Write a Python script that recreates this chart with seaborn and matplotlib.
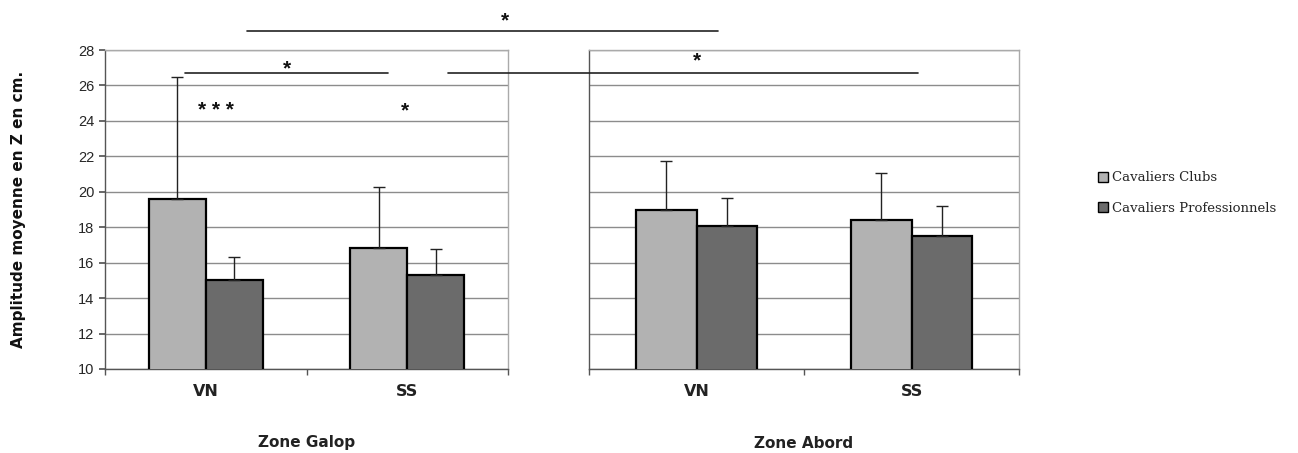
import pandas as pd
import matplotlib.pyplot as plt
import seaborn as sns
import numpy as np
from matplotlib.lines import Line2D

# --- données ---
zones = ['Zone Galop', 'Zone Abord']
positions = ['VN', 'SS']
cavaliers = ['Cavaliers Clubs', 'Cavaliers Professionnels']

# moyennes (zone galop VN, SS puis zone abord VN, SS)
moy_clubs = [19.6, 16.85, 19.0, 18.4]
moy_pros = [15.0, 15.3, 18.05, 17.5]
# écarts-types (barres d'erreur vers le haut seulement)
err_clubs = [6.9, 3.4, 2.75, 2.65]
err_pros = [1.3, 1.45, 1.6, 1.7]

lignes = []
for i, (z, p) in enumerate([(z, p) for z in zones for p in positions]):
    lignes.append({'Zone': z, 'Position': p, 'Cavalier': cavaliers[0], 'Moyenne': moy_clubs[i], 'Err': err_clubs[i]})
    lignes.append({'Zone': z, 'Position': p, 'Cavalier': cavaliers[1], 'Moyenne': moy_pros[i], 'Err': err_pros[i]})
df = pd.DataFrame(lignes)

sns.set_theme(style="white")
plt.rcParams['font.family'] = ['Liberation Sans', 'DejaVu Sans']

W, H = 1298, 453
fig = plt.figure(figsize=(W / 100, H / 100), dpi=100)

palette = {cavaliers[0]: '#b2b2b2', cavaliers[1]: '#6b6b6b'}
cadres = [(105, 403), (589, 430)]
bas, haut = 369, 50

axes = []
for k, zone in enumerate(zones):
    x0, w = cadres[k]
    ax = fig.add_axes([x0 / W, 1 - bas / H, w / W, (bas - haut) / H])
    d = df[df['Zone'] == zone]
    sns.barplot(data=d, x='Position', y='Moyenne', hue='Cavalier', order=positions,
                hue_order=cavaliers, palette=palette, width=0.565, errorbar=None,
                edgecolor='black', linewidth=1.6, legend=False, ax=ax, zorder=3)
    for cont, cav in zip(ax.containers, cavaliers):
        dd = d[d['Cavalier'] == cav].set_index('Position').loc[positions]
        xs = [b.get_x() + b.get_width() / 2 for b in cont]
        ax.errorbar(xs, dd['Moyenne'], yerr=[np.zeros(len(xs)), dd['Err']], fmt='none',
                    ecolor='#222222', elinewidth=1, capsize=4, capthick=1, zorder=4)
    ax.set_ylim(10, 28)
    ax.set_xlim(-0.5, 1.5)
    ax.set_yticks(np.arange(10, 29, 2))
    ax.yaxis.grid(True, color='#8c8c8c', linewidth=1)
    ax.set_axisbelow(True)
    ax.set_xticks([0, 1])
    ax.set_xticklabels(positions, family=['Liberation Sans Narrow', 'DejaVu Sans'],
                       fontsize=11.5, fontweight='bold', color='#222222')
    ax.set_xticks([-0.5, 0.5, 1.5], minor=True)
    ax.tick_params(axis='x', which='major', length=0, pad=11)
    ax.tick_params(axis='x', which='minor', length=4, color='#555555', direction='out', bottom=True)
    ax.set_xlabel('')
    ax.set_ylabel('')
    for s in ax.spines.values():
        s.set_color('#aaaaaa')
        s.set_linewidth(1)
    ax.spines['bottom'].set_color('#555555')
    ax.spines['left'].set_color('#555555')
    if k == 0:
        ax.tick_params(axis='y', length=4, color='#555555', direction='out', left=True, labelsize=10.5)
    else:
        ax.tick_params(axis='y', length=0, labelleft=False)
    axes.append(ax)

# titre de l'axe y
fig.text(19 / W, 1 - 209 / H, 'Amplitude moyenne en Z en cm.', rotation=90, ha='center', va='center',
         fontsize=11, fontweight='bold', color='#111111', family=['DejaVu Sans'])

# titres de zone sous les axes
for k, zone in enumerate(zones):
    x0, w = cadres[k]
    fig.text((x0 + w / 2) / W, 1 - 443 / H, zone, ha='center', va='center', fontsize=11,
             fontweight='bold', family=['Liberation Sans Narrow', 'DejaVu Sans'], color='#222222')

# traits et étoiles de significativité (coordonnées en pixels de la figure)
def trait(xa, xb, y):
    fig.add_artist(Line2D([xa / W, xb / W], [1 - y / H, 1 - y / H], color='#222222', linewidth=1.2))

def etoile(x, y, txt):
    fig.text(x / W, 1 - y / H, txt, ha='center', va='center', fontsize=15, fontweight='bold', color='#111111')

trait(247, 718, 31)
etoile(505, 21, '*')
trait(185, 388, 73)
etoile(287, 69, '*')
trait(448, 918, 73)
etoile(697, 61, '*')
etoile(216, 111, '* * *')
etoile(405, 111, '*')

# légende
handles = [plt.Rectangle((0, 0), 1, 1, facecolor=palette[c], edgecolor='black', linewidth=1) for c in cavaliers]
fig.legend(handles, cavaliers, loc='center left', bbox_to_anchor=(1086 / W, 1 - 193 / H),
           frameon=False, handlelength=0.8, handleheight=0.8, handletextpad=0.3,
           labelspacing=1.3, prop={'family': 'DejaVu Serif', 'size': 9.5})

fig.savefig('out.png', dpi=100, facecolor='white')
